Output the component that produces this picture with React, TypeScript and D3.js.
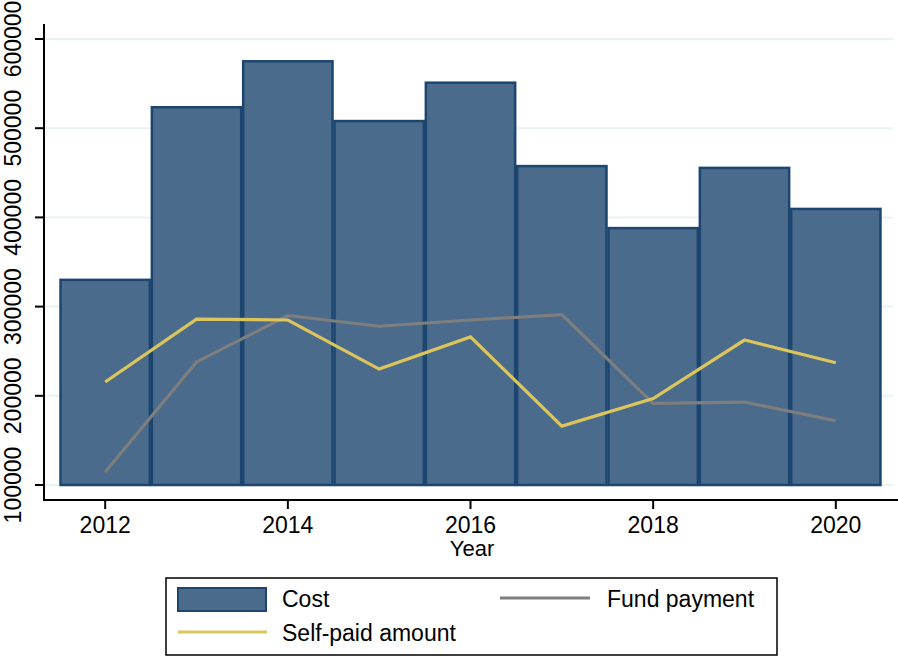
import * as d3 from "d3";

const years = [2012, 2013, 2014, 2015, 2016, 2017, 2018, 2019, 2020];
const cost = [330000, 523500, 575000, 508000, 551000, 457500, 388000, 455500, 409500];
const selfPaid = [215500, 286000, 285000, 230000, 266000, 166000, 197000, 262500, 237000];
const fundPayment = [114500, 238000, 290000, 278000, 285000, 291000, 191500, 193000, 172000];
const yTicks = [100000, 200000, 300000, 400000, 500000, 600000];
const xTicks = [2012, 2014, 2016, 2018, 2020];

const W = 898;
const H = 657;
const font = "'Liberation Sans', Arial, sans-serif";
const fs = 23;
const barFill = "#4a6b8b";
const barStroke = "#1c4670";
const yellow = "#dbc55c";
const grey = "#7e7e7e";

export default function App() {
  const x = d3.scaleLinear().domain([2011.33, 2020.67]).range([44, 897]);
  const y = d3.scaleLinear().domain([83200, 616800]).range([500, 24]);
  const bw = x(2013) - x(2012);
  const base = y(100000);

  const line = d3
    .line<number>()
    .x((_, i) => x(years[i]))
    .y((d) => y(d));

  return (
    <svg
      width={W}
      height={H}
      style={{ position: "absolute", left: 0, top: 0, background: "#fff" }}
      fontFamily={font}
    >
      {yTicks.map((t) => (
        <line key={"g" + t} x1={45} x2={893} y1={y(t)} y2={y(t)} stroke="#eaf2f3" strokeWidth={2} />
      ))}
      {cost.map((v, i) => (
        <rect
          key={"b" + i}
          x={x(years[i]) - bw / 2 + 1}
          width={bw - 2}
          y={y(v)}
          height={base - y(v)}
          fill={barFill}
          stroke={barStroke}
          strokeWidth={2.5}
        />
      ))}
      <path d={line(fundPayment) ?? ""} fill="none" stroke={grey} strokeWidth={3.2} />
      <path d={line(selfPaid) ?? ""} fill="none" stroke={yellow} strokeWidth={3.2} />

      {/* y axis */}
      <line x1={44} x2={44} y1={24} y2={501} stroke="#000" strokeWidth={2} />
      {yTicks.map((t) => (
        <g key={"yt" + t}>
          <line x1={35} x2={44} y1={y(t)} y2={y(t)} stroke="#000" strokeWidth={2} />
          <text
            transform={`translate(21,${y(t)}) rotate(-90)`}
            textAnchor="middle"
            fontSize={fs}
          >
            {t}
          </text>
        </g>
      ))}

      {/* x axis */}
      <line x1={43} x2={898} y1={500} y2={500} stroke="#000" strokeWidth={2} />
      {xTicks.map((t) => (
        <g key={"xt" + t}>
          <line x1={x(t)} x2={x(t)} y1={500} y2={509} stroke="#000" strokeWidth={2} />
          <text x={x(t)} y={533} textAnchor="middle" fontSize={fs}>
            {t}
          </text>
        </g>
      ))}
      <text x={472} y={556} textAnchor="middle" fontSize={22}>
        Year
      </text>

      {/* legend */}
      <rect x={166} y={578} width={611} height={77} fill="#fff" stroke="#000" strokeWidth={1.5} />
      <rect x={178} y={588} width={88} height={23} fill={barFill} stroke={barStroke} strokeWidth={2} />
      <text x={282} y={607} fontSize={fs}>Cost</text>
      <line x1={500} x2={590} y1={598} y2={598} stroke={grey} strokeWidth={3.2} />
      <text x={607} y={607} fontSize={fs}>Fund payment</text>
      <line x1={178} x2={267} y1={632} y2={632} stroke={yellow} strokeWidth={3.2} />
      <text x={282} y={641} fontSize={fs}>Self-paid amount</text>
    </svg>
  );
}
